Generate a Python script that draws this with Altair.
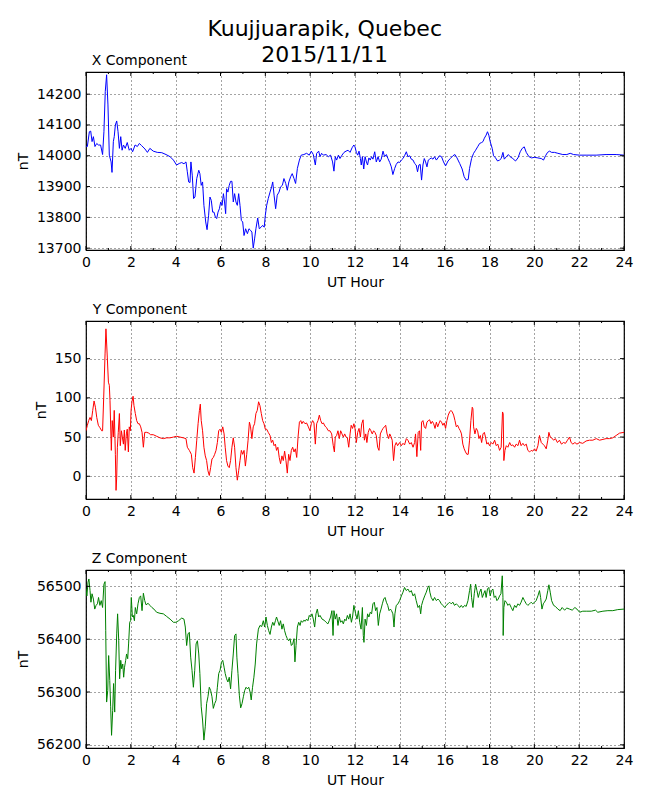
import altair as alt
import pandas as pd

FONT = "DejaVu Sans"
W, H = 538, 178

# ---------------- X component (nT) ----------------
x_hours = [0.00,0.06,0.15,0.21,0.27,0.33,0.40,0.48,0.55,0.65,0.74,0.80,0.86,0.92,0.98,1.04,1.12,1.16,1.22,1.26,1.31,1.37,1.43,1.49,1.55,1.61,1.67,1.75,1.84,1.93,2.01,2.08,2.19,2.29,2.38,2.48,2.63,2.74,2.85,3.00,3.18,3.38,3.57,3.75,3.90,4.04,4.16,4.27,4.37,4.46,4.52,4.58,4.64,4.68,4.74,4.80,4.86,4.94,5.03,5.08,5.14,5.20,5.26,5.34,5.40,5.47,5.53,5.59,5.65,5.71,5.77,5.83,5.89,5.95,6.01,6.07,6.13,6.18,6.23,6.27,6.33,6.39,6.45,6.51,6.57,6.63,6.69,6.75,6.81,6.87,6.93,6.99,7.05,7.12,7.20,7.27,7.34,7.40,7.46,7.52,7.58,7.66,7.73,7.81,7.88,7.95,8.00,8.06,8.13,8.21,8.28,8.33,8.39,8.46,8.53,8.61,8.68,8.76,8.83,8.91,8.98,9.05,9.13,9.20,9.28,9.35,9.43,9.52,9.60,9.72,9.84,9.96,10.05,10.14,10.23,10.29,10.38,10.44,10.51,10.59,10.71,10.81,10.91,11.00,11.06,11.12,11.18,11.26,11.33,11.42,11.51,11.60,11.69,11.78,11.87,11.95,
           12.00,12.06,12.12,12.18,12.24,12.28,12.33,12.39,12.45,12.51,12.56,12.62,12.68,12.74,12.80,12.88,12.95,13.03,13.10,13.17,13.25,13.32,13.40,13.47,13.55,13.62,13.69,13.77,13.84,13.92,13.99,14.07,14.14,14.21,14.29,14.36,14.44,14.51,14.59,14.66,14.73,14.79,14.85,14.91,14.97,15.03,15.09,15.15,15.21,15.27,15.33,15.40,15.48,15.55,15.63,15.70,15.77,15.86,15.95,16.04,16.15,16.25,16.37,16.46,16.55,16.67,16.78,16.87,16.96,17.05,17.11,17.20,17.29,17.38,17.47,17.56,17.65,17.71,17.77,17.85,17.91,17.97,18.03,18.12,18.18,18.27,18.36,18.45,18.52,18.60,18.66,18.75,18.84,18.92,19.04,19.16,19.27,19.37,19.46,19.55,19.64,19.76,19.88,20.01,20.16,20.31,20.41,20.50,20.59,20.68,20.77,20.90,21.05,21.27,21.45,21.60,21.75,22.02,22.31,22.76,23.20,23.65,24.00]
x_values = [14031,14030,14078,14080,14046,14062,14030,14040,14035,14035,14004,14078,14209,14263,14165,14002,13980,13946,14046,14062,14100,14113,14078,14024,14062,14018,14035,14024,14043,14018,14024,14013,14035,14030,14040,14033,14022,14011,14024,14015,14011,14010,14004,13997,13986,13970,13975,13978,13974,13980,13948,13915,13913,13980,13937,13861,13866,13926,13953,13942,13904,13915,13839,13785,13760,13807,13866,13855,13817,13817,13801,13796,13817,13828,13850,13839,13877,13850,13812,13893,13882,13904,13917,13917,13850,13877,13850,13839,13877,13839,13790,13785,13741,13763,13747,13763,13758,13752,13700,13730,13763,13798,13763,13768,13774,13768,13807,13839,13861,13882,13899,13915,13872,13828,13872,13882,13899,13904,13926,13910,13888,13915,13932,13942,13926,13910,13959,13986,14002,14004,14008,14002,14015,14004,13970,14008,14015,13997,14008,14002,14004,13997,14002,13980,13950,13997,13986,14002,13991,14002,14011,14015,14018,14011,14026,14035,
            14029,14011,14002,14015,13991,13970,13997,13957,13997,13980,13970,13993,13986,13997,13989,14013,13980,13997,13980,13989,14015,13997,14004,13991,13978,13964,13939,13959,13972,13980,13978,13986,13991,14000,14013,13997,14000,13989,13986,13975,13970,13948,13970,13972,13921,13970,13991,13980,13964,13986,13989,13993,13989,13997,13986,13993,14000,13997,13980,13967,13983,13991,14000,14004,13993,13975,13957,13932,13921,13923,13959,13991,14008,14018,14029,14040,14043,14046,14057,14067,14078,14067,14046,14024,14000,13993,13983,13986,13991,14011,13989,13997,14004,13997,13991,13983,13993,14013,14024,14029,14011,13997,13993,13995,13993,13991,13986,14000,14011,14015,14011,14011,14008,14004,14004,14008,14004,14002,14002,14002,14004,14004,14002]

# ---------------- Y component (nT) ----------------
y_hours = [0.00,0.06,0.12,0.18,0.24,0.30,0.36,0.42,0.48,0.55,0.62,0.70,0.74,0.79,0.85,0.89,0.95,1.00,1.04,1.07,1.13,1.17,1.22,1.26,1.31,1.34,1.37,1.40,1.44,1.49,1.53,1.58,1.62,1.67,1.71,1.75,1.80,1.84,1.89,1.93,1.98,2.01,2.05,2.10,2.14,2.20,2.26,2.32,2.38,2.44,2.50,2.56,2.62,2.71,2.80,2.88,3.00,3.15,3.30,3.45,3.60,3.75,3.90,4.04,4.19,4.34,4.46,4.52,4.61,4.70,4.76,4.82,4.88,4.94,5.00,5.06,5.10,5.14,5.20,5.26,5.32,5.38,5.44,5.50,5.56,5.62,5.68,5.74,5.80,5.86,5.92,5.98,6.04,6.10,6.16,6.21,6.27,6.33,6.39,6.45,6.51,6.57,6.63,6.69,6.75,6.81,6.87,6.93,6.99,7.05,7.11,7.17,7.23,7.29,7.34,7.40,7.46,7.52,7.58,7.64,7.70,7.76,7.82,7.88,7.94,8.00,8.06,8.13,8.21,8.27,8.33,8.39,8.45,8.50,8.56,8.62,8.68,8.74,8.80,8.86,8.92,8.98,9.04,9.10,9.16,9.22,9.28,9.34,9.40,9.46,9.52,9.58,9.63,9.69,9.77,9.84,9.92,9.99,10.05,10.11,10.17,10.23,10.29,10.35,10.41,10.47,10.53,10.59,10.66,10.73,10.81,10.88,10.96,11.03,11.08,11.12,11.18,11.24,11.30,11.36,11.42,11.48,11.54,11.60,11.66,11.72,11.78,11.83,11.89,11.95,
           12.00,12.06,12.12,12.18,12.24,12.30,12.36,12.42,12.48,12.53,12.59,12.65,12.71,12.77,12.83,12.89,12.95,13.01,13.07,13.13,13.19,13.25,13.31,13.37,13.43,13.50,13.55,13.60,13.66,13.72,13.78,13.84,13.90,13.99,14.07,14.14,14.21,14.29,14.36,14.44,14.51,14.59,14.66,14.70,14.76,14.82,14.88,14.93,14.97,15.03,15.09,15.15,15.21,15.27,15.33,15.39,15.45,15.51,15.57,15.63,15.69,15.74,15.80,15.86,15.92,15.98,16.04,16.10,16.16,16.22,16.28,16.34,16.40,16.46,16.52,16.58,16.64,16.70,16.75,16.81,16.87,16.93,16.99,17.05,17.11,17.17,17.23,17.26,17.29,17.35,17.41,17.47,17.53,17.59,17.65,17.71,17.77,17.82,17.88,17.94,18.00,18.08,18.15,18.23,18.30,18.37,18.45,18.52,18.58,18.61,18.64,18.69,18.75,18.82,18.90,18.97,19.04,19.12,19.19,19.27,19.34,19.41,19.49,19.56,19.64,19.71,19.79,19.86,19.93,20.01,20.08,20.16,20.23,20.31,20.38,20.45,20.53,20.60,20.65,20.71,20.77,20.86,20.94,21.03,21.12,21.21,21.30,21.39,21.48,21.57,21.64,21.72,21.81,21.90,22.02,22.16,22.31,22.46,22.61,22.76,22.91,23.06,23.20,23.35,23.50,23.65,23.80,24.00]
y_values = [58,65,71,75,71,84,96,88,75,65,62,58,58,101,156,188,152,120,116,97,33,71,50,84,28,-18,-1,37,56,80,39,58,50,41,59,33,54,60,31,63,58,84,95,102,90,80,71,67,67,63,56,37,56,56,55,53,53,51,49,48,49,49,50,51,50,49,48,37,33,28,11,4,24,46,67,84,92,71,58,37,26,20,7,1,11,22,24,28,33,43,58,60,56,63,54,37,20,13,11,20,37,49,37,11,-5,7,20,33,28,33,13,28,46,69,63,48,63,67,80,84,95,90,80,71,67,60,60,56,52,43,46,39,41,33,37,24,16,26,20,32,20,4,28,20,33,37,31,35,24,50,69,71,67,70,67,68,63,58,67,71,68,41,67,71,78,71,67,68,64,62,58,58,54,39,31,50,52,58,48,58,54,50,54,50,49,37,54,65,61,67,
            61,43,56,61,50,67,72,46,54,43,56,61,58,54,58,56,52,37,33,54,58,61,63,65,54,48,54,51,46,20,39,43,39,43,39,42,40,48,46,41,43,37,43,54,25,56,58,33,69,71,63,61,69,71,72,67,70,67,61,69,63,67,71,69,65,68,61,71,78,82,84,82,78,71,63,65,61,58,54,41,35,31,28,28,46,71,88,86,63,54,61,58,48,52,43,54,56,50,41,43,39,43,41,46,39,41,33,37,82,80,20,33,39,37,43,39,40,37,41,39,46,39,42,39,41,33,31,33,32,35,32,39,52,43,41,39,35,46,56,50,49,46,48,43,46,41,43,42,46,50,43,41,43,41,43,42,45,46,46,48,46,47,48,48,49,52,55,56]

# ---------------- Z component (nT) ----------------
z_hours = [0.00,0.04,0.09,0.13,0.18,0.22,0.27,0.33,0.39,0.45,0.51,0.56,0.62,0.68,0.74,0.80,0.85,0.88,0.92,0.97,1.01,1.06,1.10,1.14,1.19,1.23,1.28,1.32,1.37,1.41,1.46,1.50,1.55,1.59,1.64,1.68,1.72,1.77,1.81,1.86,1.90,1.95,1.99,2.02,2.07,2.11,2.16,2.20,2.26,2.32,2.38,2.44,2.50,2.56,2.62,2.68,2.77,2.85,2.94,3.03,3.15,3.30,3.45,3.60,3.75,3.90,4.01,4.13,4.27,4.37,4.43,4.49,4.55,4.61,4.67,4.73,4.79,4.85,4.91,4.97,5.03,5.08,5.14,5.20,5.26,5.32,5.38,5.44,5.50,5.56,5.62,5.68,5.74,5.80,5.86,5.92,5.98,6.04,6.10,6.16,6.21,6.27,6.33,6.39,6.45,6.51,6.57,6.63,6.69,6.73,6.78,6.84,6.90,6.96,7.02,7.08,7.14,7.20,7.26,7.32,7.37,7.43,7.49,7.55,7.61,7.69,7.76,7.84,7.91,7.97,8.03,8.09,8.15,8.21,8.27,8.33,8.39,8.45,8.50,8.56,8.62,8.68,8.74,8.80,8.86,8.92,8.98,9.04,9.10,9.16,9.22,9.28,9.32,9.37,9.43,9.49,9.55,9.60,9.66,9.72,9.78,9.84,9.90,9.96,10.02,10.08,10.14,10.20,10.26,10.32,10.38,10.44,10.53,10.62,10.71,10.79,10.85,10.91,10.97,11.02,11.06,11.12,11.18,11.24,11.30,11.36,11.42,11.48,11.54,11.60,11.66,11.72,11.78,11.84,11.89,11.95,
           12.03,12.09,12.15,12.21,12.27,12.33,12.37,12.40,12.45,12.51,12.56,12.62,12.68,12.74,12.80,12.86,12.92,12.98,13.04,13.10,13.16,13.22,13.28,13.34,13.40,13.46,13.52,13.58,13.63,13.69,13.74,13.78,13.84,13.92,13.99,14.07,14.14,14.21,14.29,14.36,14.44,14.51,14.59,14.66,14.73,14.81,14.88,14.93,14.97,15.03,15.11,15.18,15.25,15.30,15.34,15.40,15.48,15.55,15.63,15.70,15.77,15.85,15.92,16.00,16.07,16.15,16.22,16.29,16.37,16.44,16.52,16.59,16.67,16.74,16.81,16.89,16.96,17.04,17.11,17.16,17.20,17.26,17.32,17.38,17.44,17.50,17.56,17.62,17.68,17.74,17.80,17.85,17.91,17.97,18.03,18.09,18.15,18.21,18.27,18.33,18.39,18.45,18.51,18.57,18.60,18.61,18.64,18.69,18.75,18.82,18.89,18.97,19.04,19.12,19.19,19.27,19.34,19.41,19.49,19.56,19.64,19.71,19.79,19.86,19.93,20.01,20.08,20.16,20.23,20.28,20.34,20.40,20.45,20.53,20.60,20.65,20.71,20.77,20.86,20.94,21.05,21.15,21.24,21.35,21.45,21.57,21.69,21.81,21.90,22.02,22.16,22.34,22.54,22.73,22.83,23.06,23.28,23.50,23.72,24.00]
z_values = [56495,56482,56508,56514,56492,56470,56486,56476,56457,56464,56467,56479,56464,56473,56460,56504,56509,56416,56281,56303,56369,56322,56272,56218,56265,56316,56262,56341,56410,56448,56397,56325,56360,56344,56353,56328,56347,56360,56372,56363,56391,56432,56435,56479,56442,56445,56435,56460,56448,56467,56479,56482,56454,56487,56473,56465,56468,56464,56460,56457,56451,56449,56448,56443,56438,56432,56432,56435,56440,56438,56423,56388,56410,56413,56366,56341,56309,56341,56391,56397,56372,56335,56272,56247,56209,56234,56278,56291,56309,56303,56291,56269,56278,56284,56309,56335,56341,56356,56360,56347,56335,56325,56319,56328,56306,56341,56372,56407,56410,56366,56335,56294,56270,56278,56291,56303,56309,56306,56309,56300,56285,56309,56328,56353,56391,56419,56426,56424,56435,56423,56442,56426,56416,56409,56423,56432,56426,56435,56442,56434,56426,56435,56419,56429,56416,56407,56401,56397,56401,56388,56391,56401,56357,56388,56423,56432,56426,56435,56432,56436,56434,56438,56435,56445,56442,56448,56438,56423,56448,56457,56442,56445,56438,56436,56432,56429,56435,56442,56454,56407,56454,56438,56448,56426,56442,56432,56435,56429,56438,56435,56445,56438,56448,56432,56442,56464,
            56448,56438,56454,56432,56419,56460,56407,56394,56438,56426,56448,56442,56451,56448,56467,56470,56454,56460,56426,56448,56457,56467,56476,56479,56470,56464,56454,56457,56454,56448,56423,56448,56464,56467,56473,56482,56489,56498,56492,56495,56489,56492,56482,56486,56473,56460,56464,56448,56464,56473,56482,56489,56498,56501,56489,56479,56473,56479,56473,56476,56473,56467,56464,56460,56464,56467,56470,56467,56470,56464,56467,56464,56460,56464,56460,56464,56462,56473,56492,56504,56479,56460,56486,56504,56492,56479,56489,56495,56479,56486,56492,56479,56495,56498,56482,56492,56495,56479,56482,56473,56476,56482,56486,56520,56479,56407,56460,56473,56470,56464,56467,56460,56454,56464,56460,56467,56464,56470,56479,56473,56467,56464,56467,56470,56467,56470,56473,56482,56492,56479,56457,56467,56470,56476,56492,56503,56489,56473,56464,56462,56457,56454,56460,56455,56459,56457,56455,56460,56457,56451,56453,56453,56453,56455,56451,56453,56454,56454,56456,56457]

# axis ticks
hour_major = [0, 2, 4, 6, 8, 10, 12, 14, 16, 18, 20, 22, 24]
hour_minor = [1, 3, 5, 7, 9, 11, 13, 15, 17, 19, 21, 23]
x_ticks_nt = [13700, 13800, 13900, 14000, 14100, 14200]
y_ticks_nt = [0, 50, 100, 150]
z_ticks_nt = [56200, 56300, 56400, 56500]

x_domain = [13694, 14272]
y_domain = [-29, 198]
z_domain = [56194, 56531]


def panel(hours, values, color, domain, yticks, title):
    X = alt.X("hour:Q", scale=alt.Scale(domain=[0, 24], nice=False),
              axis=alt.Axis(values=hour_major, format="d", title="UT Hour"))
    Y = alt.Y("nT:Q", scale=alt.Scale(domain=domain, nice=False, zero=False),
              axis=alt.Axis(values=yticks, format="d", title="nT"))
    line = alt.Chart(pd.DataFrame({"hour": hours, "nT": values})).mark_line(
        color=color, strokeWidth=1, clip=True).encode(x=X, y=Y)
    maj = pd.DataFrame({"hour": hour_major})
    mnr = pd.DataFrame({"hour": hour_minor})
    yt = pd.DataFrame({"nT": yticks})
    layers = [line]
    for df, ln in ((maj, 4), (mnr, 2)):
        layers.append(alt.Chart(df).mark_rule(color="black", strokeWidth=1).encode(
            x=X, y=alt.value(H), y2=alt.value(H - ln)))
        layers.append(alt.Chart(df).mark_rule(color="black", strokeWidth=1).encode(
            x=X, y=alt.value(0), y2=alt.value(ln)))
    layers.append(alt.Chart(yt).mark_rule(color="black", strokeWidth=1).encode(
        y=Y, x=alt.value(0), x2=alt.value(4)))
    layers.append(alt.Chart(yt).mark_rule(color="black", strokeWidth=1).encode(
        y=Y, x=alt.value(W), x2=alt.value(W - 4)))
    return alt.layer(*layers).properties(
        width=W, height=H,
        title=alt.TitleParams(title, anchor="start", frame="group", align="right",
                              dx=101, fontSize=14, fontWeight="normal", font=FONT,
                              offset=4, color="black"))


p1 = panel(x_hours, x_values, "#0000ff", x_domain, x_ticks_nt, "X Component")
p2 = panel(y_hours, y_values, "#ff0000", y_domain, y_ticks_nt, "Y Component")
p3 = panel(z_hours, z_values, "#008000", z_domain, z_ticks_nt, "Z Component")

chart = alt.vconcat(p1, p2, p3, spacing=11).properties(
    title=alt.TitleParams(["Kuujjuarapik, Quebec", "2015/11/11"], anchor="middle",
                          fontSize=22, lineHeight=26, fontWeight="normal",
                          font=FONT, color="black", offset=-14),
    padding={"left": 7, "top": 9, "right": 5, "bottom": 5},
    background="white",
).configure_axis(
    labelFont=FONT, labelFontSize=14, labelColor="black", labelPadding=5,
    labelFlush=False,
    titleFont=FONT, titleFontSize=14, titleFontWeight="normal", titleColor="black",
    titlePadding=6, tickSize=0, domain=False,
    grid=True, gridColor="black", gridDash=[1, 3], gridWidth=0.8, gridOpacity=0.9,
).configure_view(stroke="black", strokeWidth=1.2)

chart.save("out.html", embed_options={"renderer": "svg", "actions": False})
